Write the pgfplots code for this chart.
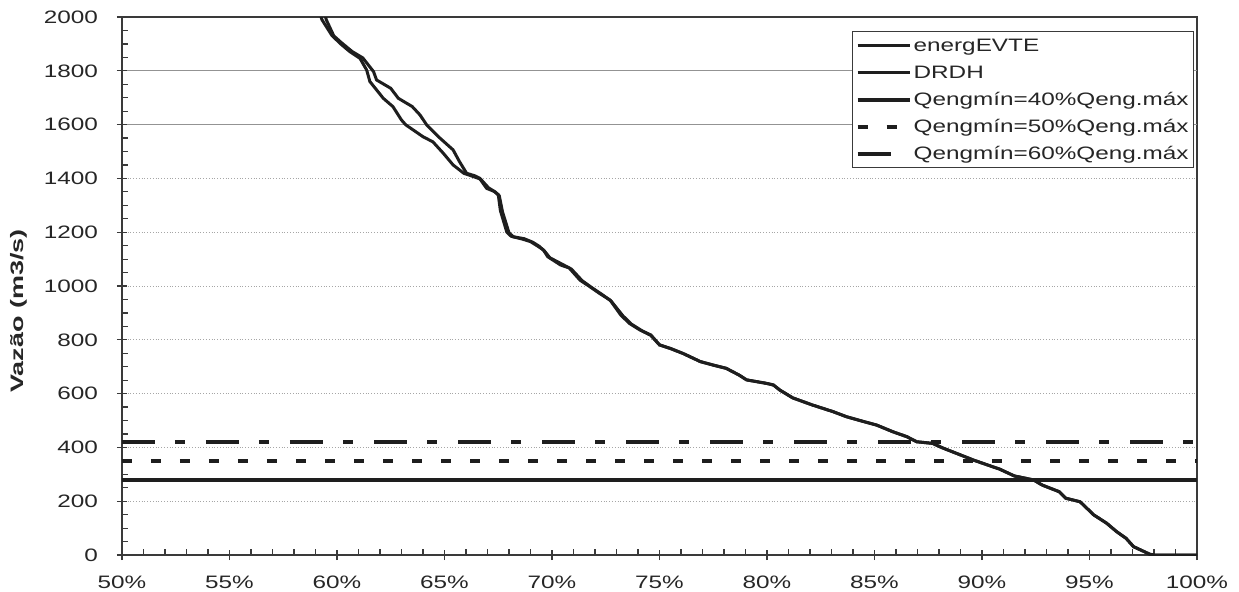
\documentclass[border=0pt]{standalone}
\usepackage{fontspec}
\setmainfont{Liberation Sans}[FakeStretch=1.35]
\newfontfamily\ylfont{Liberation Sans}[FakeStretch=1.5]
\usepackage{pgfplots}
\pgfplotsset{compat=1.18}
\definecolor{curve}{HTML}{1E1E1E}
\definecolor{axline}{HTML}{3A3A3A}
\begin{document}
\begin{tikzpicture}
\useasboundingbox (-61pt,-18pt) rectangle (558.5pt,277.5pt);
\begin{axis}[
  scale only axis, width=537.5pt, height=269pt,
  at={(0,0)}, anchor=south west,
  xmin=50, xmax=100, ymin=0, ymax=2000,
  axis line style={axline, line width=0.8pt},
  xtick={50,55,...,100},
  xticklabels={50\%,55\%,60\%,65\%,70\%,75\%,80\%,85\%,90\%,95\%,100\%},
  ytick={0,200,...,2000},
  minor x tick num=4, minor y tick num=3,
  xtick pos=lower, ytick pos=lower,
  tick align=center, major tick length=5pt, minor tick length=3pt,
  minor x tick style={yshift=1.5pt}, minor y tick style={xshift=1.5pt},
  tick style={axline, line width=0.6pt},
  ymajorgrids, major grid style={gray!70, densely dotted, line width=0.5pt},
  extra y ticks={1600,1800}, extra y tick labels={},
  extra y tick style={major grid style={gray!85, solid, line width=0.6pt}},
  tick label style={font=\fontsize{9}{10}\selectfont, text=black!85},
  yticklabel style={xshift=-6pt},
  xticklabel style={yshift=-4.5pt},
  /pgf/number format/assume math mode=true,
  /pgf/number format/1000 sep={},
  ylabel={Vazão (m3/s)},
  ylabel style={font=\ylfont\bfseries\fontsize{9}{10}\selectfont, text=black!85, at={(rel axis cs:-0.0958,0.4535)}, anchor=center},
  legend style={at={(rel axis cs:0.6791,0.974)}, anchor=north west, draw=axline, line width=0.6pt, fill=white,
    inner xsep=1.5pt, inner ysep=1.75pt, row sep=3pt, font=\fontsize{9}{10}\selectfont,
    nodes={inner ysep=0pt, inner xsep=1pt, text height=8pt, text depth=2.5pt, text=black!85}},
  legend cell align=left,
  legend image code/.code={\draw[#1] plot coordinates {(0pt,0pt)(13pt,0pt)(26pt,0pt)};},
]
\addplot[curve, line width=1.5pt] coordinates {
(59.10,2040)(59.30,1990)(59.75,1933)(60.14,1902)(60.60,1871)(61.07,1846)
(61.38,1803)(61.53,1760)(62.15,1698)(62.60,1667)(63.00,1617)(63.20,1599)
(64.00,1555)(64.46,1536)(64.95,1493)(65.40,1450)(65.90,1419)(66.30,1408)
(66.65,1398)(66.96,1363)(67.30,1352)(67.50,1340)(67.60,1280)(67.90,1200)
(68.10,1185)(68.60,1175)(69.00,1165)(69.30,1150)(69.60,1134)(69.80,1109)
(70.40,1078)(70.80,1067)(71.30,1022)(71.77,997)(72.20,973)(72.70,948)
(73.20,892)(73.60,861)(74.10,836)(74.60,818)(75.00,781)(75.50,768)
(76.10,749)(76.90,719)(77.50,706)(78.10,694)(78.70,669)(79.05,651)
(79.98,638)(80.30,632)(80.60,613)(81.20,584)(82.10,558)(83.07,533)
(83.70,514)(84.50,496)(85.10,483)(85.86,458)(86.50,440)(86.96,421)
(87.70,415)(88.20,397)(89.00,372)(89.60,353)(90.50,328)(90.80,320)
(91.50,294)(92.40,279)(92.80,260)(93.60,235)(93.90,211)(94.56,198)
(95.20,149)(95.80,118)(96.26,87)(96.70,62)(97.05,31)(97.80,3)(98.00,0)(100.00,0)
};
\addlegendentry{energEVTE}
\addplot[curve, line width=1.5pt] coordinates {
(59.35,2040)(59.50,1990)(59.85,1930)(60.20,1905)(60.70,1872)(61.20,1848)
(61.70,1797)(61.84,1766)(62.50,1735)(62.85,1698)(63.50,1667)(63.86,1636)
(64.17,1599)(64.80,1549)(65.40,1506)(65.70,1462)(66.03,1419)(66.40,1410)
(66.65,1400)(67.05,1365)(67.35,1350)(67.55,1335)(67.70,1275)(68.00,1198)
(68.20,1183)(68.70,1176)(69.10,1163)(69.40,1148)(69.65,1130)(69.90,1105)
(70.50,1080)(70.90,1063)(71.40,1020)(71.85,994)(72.30,970)(72.75,944)
(73.30,889)(73.70,858)(74.20,833)(74.60,816)(75.00,781)(75.50,768)
(76.10,749)(76.90,719)(77.50,706)(78.10,694)(78.70,669)(79.05,651)
(79.98,638)(80.30,632)(80.60,613)(81.20,584)(82.10,558)(83.07,533)
(83.70,514)(84.50,496)(85.10,483)(85.86,458)(86.50,440)(86.96,421)
(87.70,415)(88.20,397)(89.00,372)(89.60,353)(90.50,328)(90.80,320)
(91.50,294)(92.40,279)(92.80,260)(93.60,235)(93.90,211)(94.56,198)
(95.20,149)(95.80,118)(96.26,87)(96.70,62)(97.05,31)(97.80,3)(98.00,0)(100.00,0)
};
\addlegendentry{DRDH}
\addplot[curve, line width=2pt] coordinates {(50,280)(100,280)};
\addlegendentry{Qengmín=40\%Qeng.máx}
\addplot[curve, line width=2pt, dash pattern=on 5pt off 9.5pt] coordinates {(50,350)(100,350)};
\addlegendentry{Qengmín=50\%Qeng.máx}
\addplot[curve, line width=2pt, dash pattern=on 16.5pt off 10pt on 5pt off 10.5pt] coordinates {(50,420)(100,420)};
\addlegendentry{Qengmín=60\%Qeng.máx}
\end{axis}
\end{tikzpicture}
\end{document}
